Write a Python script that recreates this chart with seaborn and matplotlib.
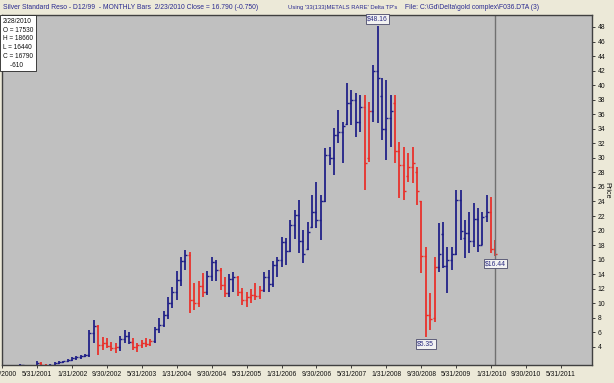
import numpy as np
import pandas as pd
import matplotlib
matplotlib.use("Agg")
import matplotlib.pyplot as plt
import matplotlib.dates as mdates
import seaborn as sns

# ---------------- data (monthly OHLC, Jan 2001 .. Feb 2010) ----------------
dates = pd.date_range("2001-02-01", "2010-03-01", freq="MS") - pd.Timedelta(days=1)

opens = [1.35, 1.50, 1.30, 1.15, 1.40, 1.85, 1.55, 1.40, 1.50, 1.80, 1.90, 2.00,
         2.20, 2.45, 2.60, 2.70, 2.90, 5.90, 6.90, 4.20, 4.60, 4.10, 3.80, 4.00,
         5.10, 5.50, 4.70, 4.00, 4.30, 4.50, 4.40, 4.80, 6.40, 7.00, 8.40, 10.00,
         11.60, 13.20, 15.80, 16.60, 10.40, 10.00, 12.40, 11.50, 13.80, 15.70, 14.60, 12.50,
         11.40, 13.30, 13.60, 11.60, 10.40, 10.90, 11.20, 11.00, 11.80, 13.60, 12.60, 15.20,
         15.90, 18.40, 17.20, 20.80, 22.20, 18.50, 17.50, 20.50, 22.60, 21.50, 24.00, 30.40,
         30.00, 33.20, 33.60, 34.60, 37.60, 37.90, 35.00, 37.00, 30.00, 36.40, 42.00, 38.50,
         34.00, 35.50, 37.50, 31.00, 29.00, 27.50, 28.80, 28.00, 24.00, 16.50, 8.40, 8.00,
         15.00, 19.50, 15.10, 16.00, 16.80, 24.20, 19.00, 19.60, 18.50, 21.60, 18.00, 22.00,
         22.60, 17.53]
highs = [1.65, 1.55, 1.40, 1.50, 2.05, 1.95, 1.60, 1.60, 1.90, 2.00, 2.10, 2.35,
         2.60, 2.75, 2.85, 3.00, 6.30, 7.70, 7.00, 5.40, 5.20, 4.70, 4.50, 5.50,
         6.30, 6.00, 5.20, 4.60, 5.00, 5.20, 5.10, 6.80, 8.00, 9.00, 10.80, 12.20,
         14.40, 16.40, 17.30, 17.10, 12.80, 13.00, 14.20, 14.40, 16.40, 16.00, 14.90, 13.60,
         14.00, 14.30, 13.80, 12.10, 11.60, 12.00, 12.80, 12.40, 14.30, 14.60, 15.80, 16.40,
         19.10, 19.00, 21.50, 22.80, 24.20, 20.10, 21.20, 24.90, 26.70, 24.90, 31.40, 31.50,
         34.10, 36.60, 35.00, 40.30, 39.30, 38.90, 38.60, 38.60, 37.70, 42.80, 48.16, 41.00,
         40.70, 38.60, 38.60, 32.20, 31.50, 30.70, 31.50, 28.70, 24.00, 17.70, 11.40, 16.40,
         21.00, 21.20, 17.70, 17.70, 25.60, 25.60, 21.50, 22.60, 23.80, 23.10, 22.60, 24.90,
         24.60, 18.66]
lows = [1.20, 1.20, 1.05, 1.10, 1.35, 1.45, 1.25, 1.30, 1.45, 1.60, 1.75, 1.90,
        2.05, 2.25, 2.40, 2.55, 2.60, 4.50, 2.90, 3.60, 3.90, 3.40, 3.20, 3.50,
        4.50, 4.40, 3.60, 3.30, 3.90, 4.00, 4.10, 4.60, 5.90, 6.70, 7.90, 9.40,
        10.50, 12.40, 14.60, 8.70, 9.10, 9.50, 10.80, 11.20, 13.00, 13.10, 11.80, 10.90,
        10.90, 11.60, 11.00, 9.80, 9.50, 10.00, 10.40, 10.60, 11.50, 11.50, 12.30, 13.60,
        15.00, 15.30, 17.00, 18.80, 16.90, 15.50, 17.30, 20.30, 20.30, 18.70, 23.90, 29.00,
        27.60, 32.00, 29.30, 34.50, 34.50, 32.90, 33.60, 25.60, 29.40, 34.90, 34.80, 32.50,
        29.70, 31.50, 29.30, 24.50, 24.20, 26.70, 26.50, 23.50, 14.20, 5.35, 6.30, 7.40,
        14.30, 14.80, 11.40, 14.60, 16.60, 18.70, 16.20, 16.90, 17.70, 17.10, 18.00, 21.20,
        16.90, 16.44]
closes = [1.50, 1.30, 1.15, 1.40, 1.85, 1.55, 1.40, 1.50, 1.80, 1.90, 2.00, 2.20,
          2.45, 2.60, 2.70, 2.90, 5.90, 6.90, 4.20, 4.60, 4.10, 3.80, 4.00, 5.10,
          5.50, 4.70, 4.00, 4.30, 4.50, 4.40, 4.80, 6.40, 7.00, 8.40, 10.00, 11.60,
          13.20, 15.80, 16.60, 10.40, 10.00, 12.40, 11.50, 13.80, 15.70, 14.60, 12.50, 11.40,
          13.30, 13.60, 11.60, 10.40, 10.90, 11.20, 11.00, 11.80, 13.60, 12.60, 15.20, 15.90,
          18.40, 17.20, 20.80, 22.20, 18.50, 16.80, 19.80, 22.60, 21.50, 24.00, 30.40, 30.00,
          33.20, 33.60, 34.40, 37.60, 37.90, 35.00, 37.00, 29.30, 36.40, 42.00, 41.00, 34.00,
          35.50, 36.50, 31.00, 29.00, 25.50, 28.80, 29.30, 25.50, 16.50, 8.40, 7.90, 15.00,
          16.80, 15.10, 16.00, 16.80, 24.20, 20.00, 19.60, 18.50, 21.60, 18.00, 21.80, 22.60,
          17.50, 16.79]
# bar colouring as shown (u = blue, d = red), one string per year
trend_by_year = ["uuuuudduuuuu",   # 2001
                 "uuuuuudddddu",   # 2002
                 "uuddddduuuuu",   # 2003
                 "uuudddduuudd",   # 2004
                 "uudddddduuuu",   # 2005
                 "uuuuuuuuuuuu",   # 2006
                 "uuuuuuudduuu",   # 2007
                 "uudddddddddd",   # 2008
                 "uuuuuuuuuuuu",   # 2009
                 "dd"]             # 2010
trend = list("".join(trend_by_year))

tick_labels = ["9/30/2000", "5/31/2001", "1/31/2002", "9/30/2002", "5/31/2003",
               "1/31/2004", "9/30/2004", "5/31/2005", "1/31/2006", "9/30/2006",
               "5/31/2007", "1/31/2008", "9/30/2008", "5/31/2009", "1/31/2010",
               "9/30/2010", "5/31/2011"]
y_ticks = list(range(4, 50, 2))

title_left = "Silver Standard Reso - D12/99  - MONTHLY Bars  2/23/2010 Close = 16.790 (-0.750)"
title_mid = "Using '33(133)METALS RARE' Delta TP's"
title_right = "File: C:\\Gd\\Delta\\gold complex\\F036.DTA (3)"
info_lines = ["2/28/2010", "O = 17530", "H = 18660", "L = 16440", "C = 16790", "    -610"]

# ---------------- figure ----------------
sns.set_style("white")
plt.rcParams["font.family"] = ["Liberation Sans", "DejaVu Sans"]

BLUE = "#1c1c86"
RED = "#ea2c26"
BG = "#ECE9D8"
FS = 4.9

df = pd.DataFrame({"date": dates, "open": opens, "high": highs, "low": lows,
                   "close": closes, "trend": trend})

W, H = 614, 383
fig = plt.figure(figsize=(W / 100, H / 100), dpi=100, facecolor=BG)
ax = fig.add_axes([2 / W, 1 - 365 / H, 590 / W, 350 / H])
ax.set_facecolor("#C0C0C0")

for key, col in (("u", BLUE), ("d", RED)):
    sub = df[df["trend"] == key]
    ax.vlines(sub["date"], sub["low"], sub["high"], colors=col, linewidth=1.25)
    ax.plot(sub["date"], sub["open"], ls="none", marker=0, ms=1.6, mew=1.0, color=col)
    ax.plot(sub["date"], sub["close"], ls="none", marker=1, ms=1.6, mew=1.0, color=col)

# cursor line at last bar
ax.axvline(df["date"].iloc[-1], color="#707070", lw=1.0)

x0 = pd.Timestamp("2001-05-31")
ax.set_xlim(mdates.date2num(x0) - 35 * 6.97, mdates.date2num(x0) + 555 * 6.97)
ax.set_ylim(1.51, 49.65)

tick_dates = pd.to_datetime(tick_labels, format="%m/%d/%Y")
ax.set_xticks(tick_dates)
ax.set_xticklabels(tick_labels, fontsize=FS)
ax.yaxis.tick_right()
ax.yaxis.set_label_position("right")
ax.set_yticks(y_ticks)
ax.set_yticklabels([str(t) for t in y_ticks], fontsize=FS)
ax.set_ylabel("Price", fontsize=FS + 0.3, rotation=270, labelpad=4, color="#111111")
ax.tick_params(axis="both", which="both", length=2.5, width=0.6, pad=1.5,
               direction="out", bottom=True, right=True, left=False, colors="#222222")
for t in ax.get_xticklabels() + ax.get_yticklabels():
    t.set_color("#111111")
for s in ax.spines.values():
    s.set_color("#404040")
    s.set_linewidth(1.0)
    s.set_visible(True)

# annotations of extremes (peak and following trough) and last value
box = dict(boxstyle="square,pad=0.2", fc="#F2F2F2", ec="#4a4a6a", lw=0.6)
ih = int(np.argmax(highs))
il = ih + int(np.argmin(lows[ih:]))
ax.text(df["date"].iloc[ih], highs[ih] + 0.5, f"${highs[ih]:.2f}", ha="center", va="bottom",
        fontsize=FS, color="#2a2a80", bbox=box)
ax.text(df["date"].iloc[il], lows[il] - 0.5, f"${lows[il]:.2f}", ha="center", va="top",
        fontsize=FS, color="#2a2a80", bbox=box)
ax.text(df["date"].iloc[-1], lows[-1] - 0.5, f"${lows[-1]:.2f}", ha="center", va="top",
        fontsize=FS, color="#2a2a80", bbox=box)

# title strip
fig.text(3 / W, 1 - 7.5 / H, title_left, fontsize=FS, color="#2a2a90", va="center", ha="left")
fig.text(288 / W, 1 - 7.5 / H, title_mid, fontsize=FS - 0.7, color="#2a2a90", va="center", ha="left")
fig.text(405 / W, 1 - 7.5 / H, title_right, fontsize=FS, color="#2a2a90", va="center", ha="left")

# info box
fig.text(3 / W, 1 - 18 / H, "\n".join(info_lines), fontsize=FS - 0.2, color="#111111",
         va="top", ha="left", linespacing=1.35,
         bbox=dict(boxstyle="square,pad=0.4", fc="white", ec="#222222", lw=0.6))

fig.savefig("out.png", dpi=100, facecolor=BG)
